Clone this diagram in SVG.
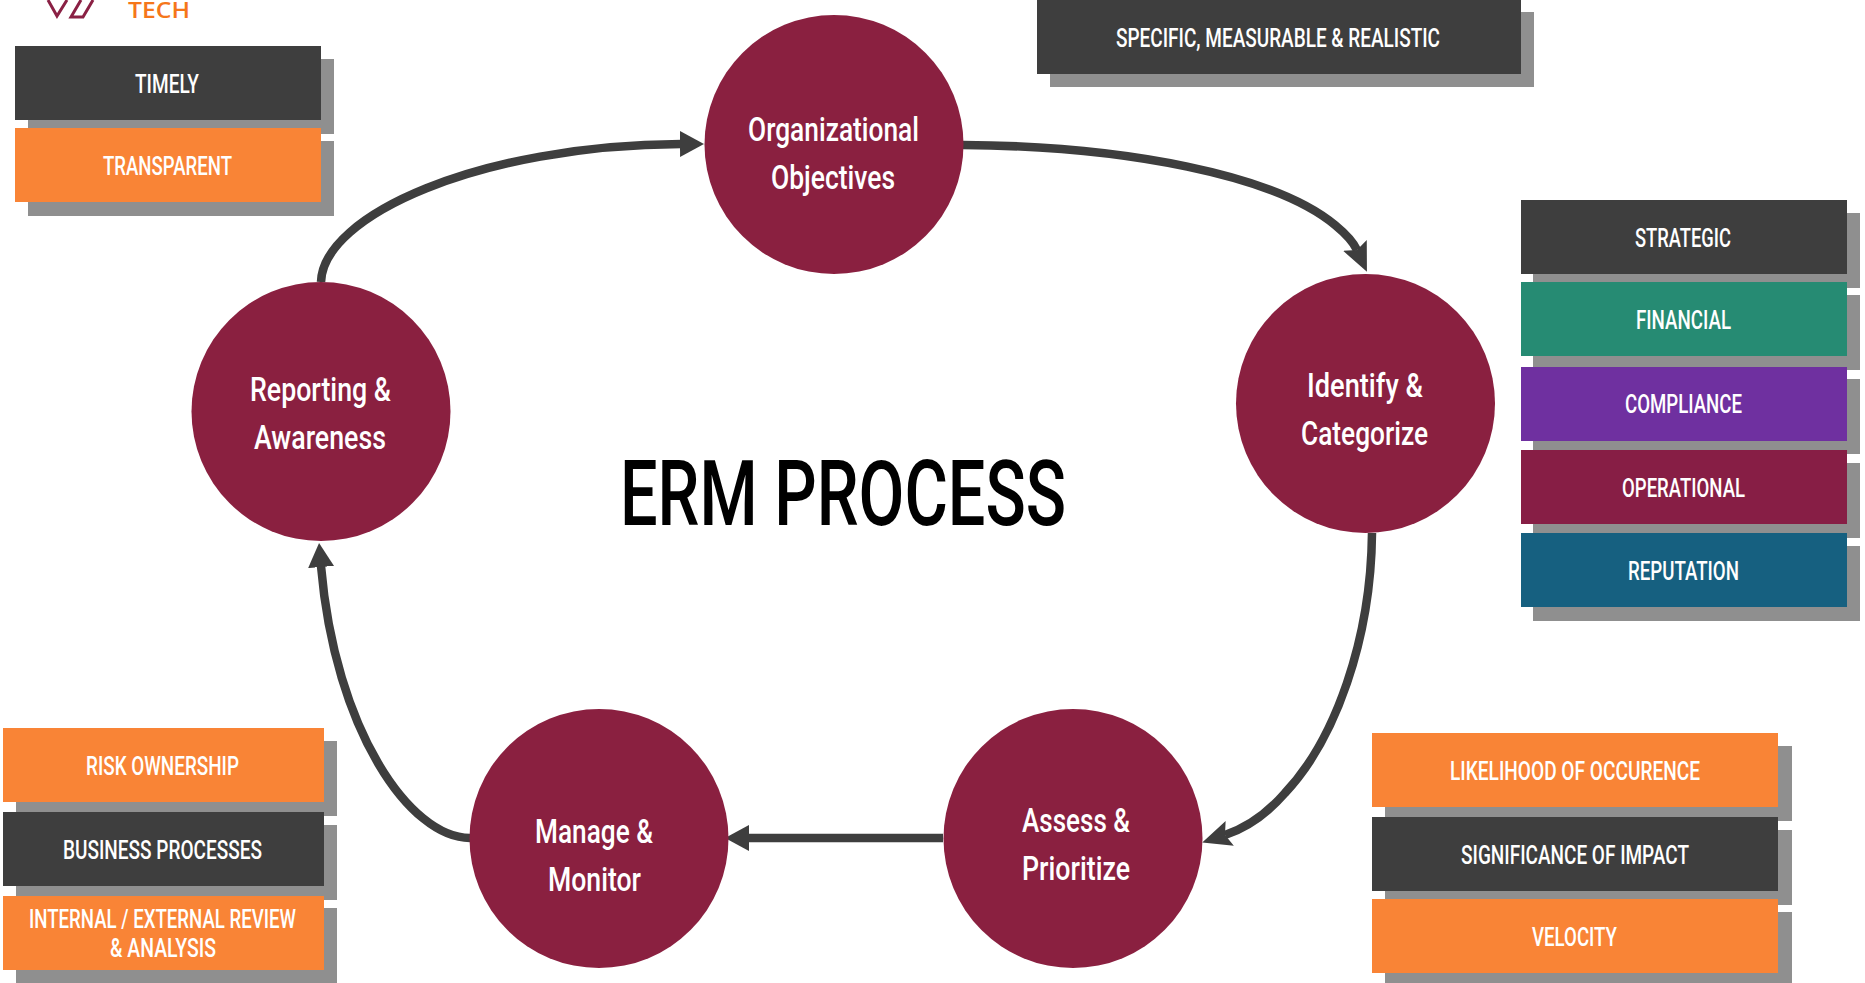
<svg xmlns="http://www.w3.org/2000/svg" width="1865" height="983" viewBox="0 0 1865 983">
<style>
.bg{fill:#fff}
.sh{fill:#8f8f8f}
.dark{fill:#3e3e3e}
.orange{fill:#f98436}
.green{fill:#268b73}
.purple{fill:#6f30a0}
.wine{fill:#871e45}
.blue{fill:#166080}
.circle{fill:#8a2040}
text{font-family:"Roboto","Liberation Sans",sans-serif;fill:#fff}
.bt{font-size:26px;font-weight:500}
.ct{font-size:34px;font-weight:500}
.title{font-size:90px;font-weight:500;fill:#000}
.tech{font-family:"Open Sans","Liberation Sans",sans-serif;font-size:22px;font-weight:600;fill:#f5761a}
.link{fill:none;stroke:#3e3e3e;stroke-width:8.5}
.head{fill:#3e3e3e}
</style>
<defs>
<marker id="arrow" markerUnits="userSpaceOnUse" markerWidth="30" markerHeight="30" refX="1" refY="15" orient="auto" viewBox="0 0 30 30"><path class="head" d="M0,2 L24,15 L0,28 Z"/></marker>
<marker id="swept" markerUnits="userSpaceOnUse" markerWidth="34" markerHeight="30" refX="5" refY="15" orient="auto" viewBox="0 0 34 30"><path class="head" d="M0,2 L29,15 L0,28 L5,15 Z"/></marker>
</defs>
<rect class="bg" width="1865" height="983"/>
<g id="logo">
<path d="M48,0 L57,16 L67,0 M81,0 L71,17 L83,17 L93,0" fill="none" stroke="#8a2044" stroke-width="3"/>
<text class="tech" x="128" y="18" textLength="62" lengthAdjust="spacingAndGlyphs">TECH</text>
</g>
<g id="connectors">
<path class="link" marker-end="url(#arrow)" d="M321,282 C323,215 480,145 681,144"/>
<path class="link" marker-end="url(#swept)" d="M963,145 C1125,146 1275,175 1335,225 Q1352,239 1357,250"/>
<path class="link" marker-end="url(#swept)" d="M1372,533 C1371,640 1335,740 1285,793 Q1258,824 1225,835"/>
<path class="link" marker-end="url(#arrow)" d="M943,838 L748,838"/>
<path class="link" marker-end="url(#arrow)" d="M470,838 C410,838 335,730 321,566"/>
</g>
<g id="node-organizational"><circle class="circle" cx="834" cy="144.5" r="129.5"/>
<text class="ct" x="748" y="141" textLength="171" lengthAdjust="spacingAndGlyphs">Organizational</text>
<text class="ct" x="771" y="189" textLength="124" lengthAdjust="spacingAndGlyphs">Objectives</text></g>
<g id="node-identify"><circle class="circle" cx="1365.5" cy="403.5" r="129.5"/>
<text class="ct" x="1307" y="397" textLength="116" lengthAdjust="spacingAndGlyphs">Identify &amp;</text>
<text class="ct" x="1301" y="445" textLength="127" lengthAdjust="spacingAndGlyphs">Categorize</text></g>
<g id="node-assess"><circle class="circle" cx="1073" cy="838.5" r="129.5"/>
<text class="ct" x="1022" y="832" textLength="108" lengthAdjust="spacingAndGlyphs">Assess &amp;</text>
<text class="ct" x="1022" y="880" textLength="108" lengthAdjust="spacingAndGlyphs">Prioritize</text></g>
<g id="node-manage"><circle class="circle" cx="599" cy="838.5" r="129.5"/>
<text class="ct" x="535" y="843" textLength="118" lengthAdjust="spacingAndGlyphs">Manage &amp;</text>
<text class="ct" x="548" y="891" textLength="93" lengthAdjust="spacingAndGlyphs">Monitor</text></g>
<g id="node-reporting"><circle class="circle" cx="321" cy="411.5" r="129.5"/>
<text class="ct" x="250" y="401" textLength="141" lengthAdjust="spacingAndGlyphs">Reporting &amp;</text>
<text class="ct" x="254" y="449" textLength="132" lengthAdjust="spacingAndGlyphs">Awareness</text></g>
<text id="title" class="title" x="620" y="525" textLength="446" lengthAdjust="spacingAndGlyphs">ERM PROCESS</text>
<g id="box-specific"><rect class="sh" x="1050" y="12" width="484" height="75"/><rect class="dark" x="1037" y="0" width="484" height="74"/>
<text class="bt" x="1116" y="47" textLength="324" lengthAdjust="spacingAndGlyphs">SPECIFIC, MEASURABLE &amp; REALISTIC</text></g>
<g id="box-timely"><rect class="sh" x="28" y="59" width="306" height="75"/><rect class="dark" x="15" y="46" width="306" height="74"/>
<text class="bt" x="135" y="93" textLength="64" lengthAdjust="spacingAndGlyphs">TIMELY</text></g>
<g id="box-transparent"><rect class="sh" x="28" y="141" width="306" height="75"/><rect class="orange" x="15" y="128" width="306" height="74"/>
<text class="bt" x="103" y="175" textLength="129" lengthAdjust="spacingAndGlyphs">TRANSPARENT</text></g>
<g id="box-strategic"><rect class="sh" x="1533" y="213" width="327" height="75"/><rect class="dark" x="1521" y="200" width="326" height="74"/>
<text class="bt" x="1635" y="247" textLength="96" lengthAdjust="spacingAndGlyphs">STRATEGIC</text></g>
<g id="box-financial"><rect class="sh" x="1533" y="295" width="327" height="75"/><rect class="green" x="1521" y="282" width="326" height="74"/>
<text class="bt" x="1636" y="329" textLength="95" lengthAdjust="spacingAndGlyphs">FINANCIAL</text></g>
<g id="box-compliance"><rect class="sh" x="1533" y="379" width="327" height="75"/><rect class="purple" x="1521" y="367" width="326" height="74"/>
<text class="bt" x="1625" y="413" textLength="117" lengthAdjust="spacingAndGlyphs">COMPLIANCE</text></g>
<g id="box-operational"><rect class="sh" x="1533" y="463" width="327" height="75"/><rect class="wine" x="1521" y="450" width="326" height="74"/>
<text class="bt" x="1622" y="497" textLength="123" lengthAdjust="spacingAndGlyphs">OPERATIONAL</text></g>
<g id="box-reputation"><rect class="sh" x="1533" y="546" width="327" height="75"/><rect class="blue" x="1521" y="533" width="326" height="74"/>
<text class="bt" x="1628" y="580" textLength="111" lengthAdjust="spacingAndGlyphs">REPUTATION</text></g>
<g id="box-likelihood"><rect class="sh" x="1385" y="746" width="407" height="75"/><rect class="orange" x="1372" y="733" width="406" height="74"/>
<text class="bt" x="1450" y="780" textLength="250" lengthAdjust="spacingAndGlyphs">LIKELIHOOD OF OCCURENCE</text></g>
<g id="box-significance"><rect class="sh" x="1385" y="830" width="407" height="75"/><rect class="dark" x="1372" y="817" width="406" height="74"/>
<text class="bt" x="1461" y="864" textLength="228" lengthAdjust="spacingAndGlyphs">SIGNIFICANCE OF IMPACT</text></g>
<g id="box-velocity"><rect class="sh" x="1385" y="912" width="407" height="75"/><rect class="orange" x="1372" y="899" width="406" height="74"/>
<text class="bt" x="1532" y="946" textLength="85" lengthAdjust="spacingAndGlyphs">VELOCITY</text></g>
<g id="box-risk"><rect class="sh" x="16" y="741" width="321" height="75"/><rect class="orange" x="3" y="728" width="321" height="74"/>
<text class="bt" x="86" y="775" textLength="153" lengthAdjust="spacingAndGlyphs">RISK OWNERSHIP</text></g>
<g id="box-business"><rect class="sh" x="16" y="825" width="321" height="75"/><rect class="dark" x="3" y="812" width="321" height="74"/>
<text class="bt" x="63" y="859" textLength="199" lengthAdjust="spacingAndGlyphs">BUSINESS PROCESSES</text></g>
<g id="box-internal"><rect class="sh" x="16" y="908" width="321" height="75"/><rect class="orange" x="3" y="896" width="321" height="74"/>
<text class="bt" x="29" y="928" textLength="267" lengthAdjust="spacingAndGlyphs">INTERNAL / EXTERNAL REVIEW</text>
<text class="bt" x="110" y="957" textLength="106" lengthAdjust="spacingAndGlyphs">&amp; ANALYSIS</text></g>
</svg>
